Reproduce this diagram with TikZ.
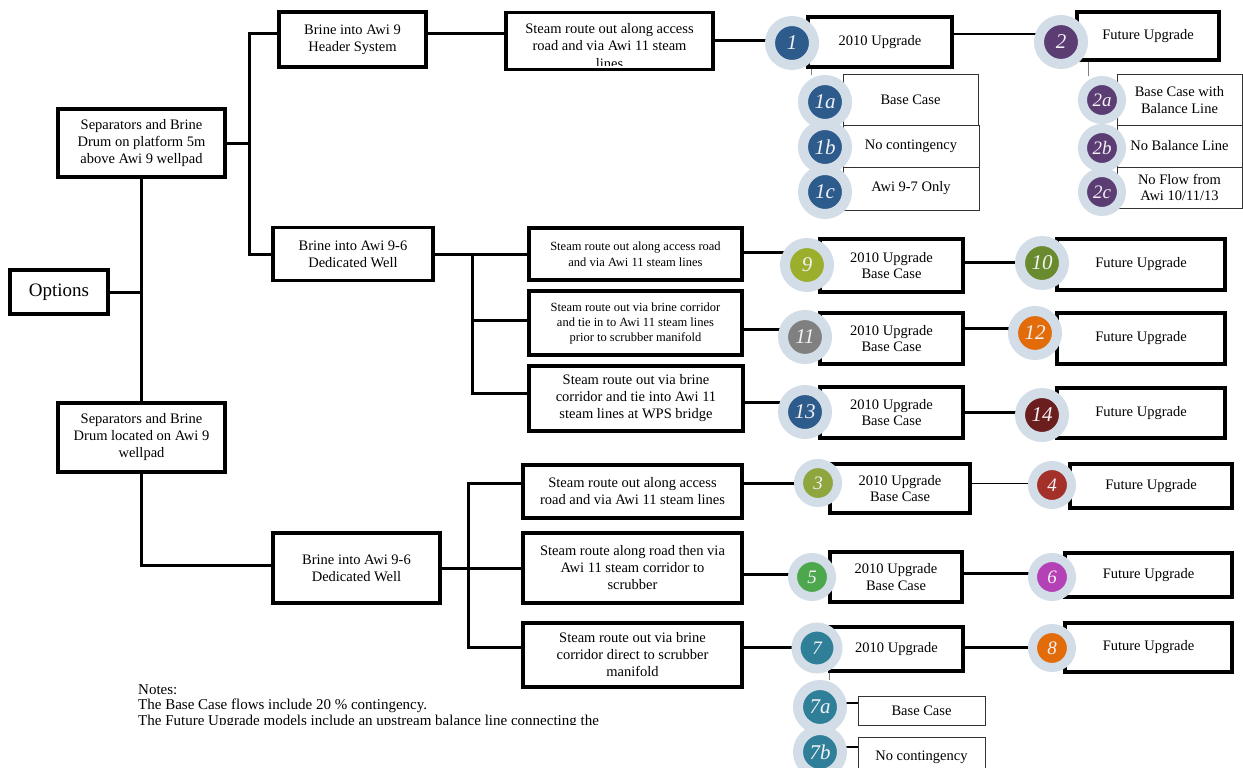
\documentclass[tikz,border=0pt]{standalone}
\usepackage{fontspec}
\setmainfont{Liberation Serif}
\usetikzlibrary{calc}
\pgfdeclarelayer{back}
\pgfdeclarelayer{lines}
\pgfsetlayers{back,lines,main}
\definecolor{halo}{HTML}{D3DDE8}
\definecolor{cblue}{HTML}{2D5B8C}
\definecolor{cpurple}{HTML}{5B3C73}
\definecolor{cnine}{HTML}{9BAF2C}
\definecolor{cten}{HTML}{6A8A2E}
\definecolor{cgray}{HTML}{808080}
\definecolor{corange}{HTML}{E36C0A}
\definecolor{cmaroon}{HTML}{6A1E1E}
\definecolor{cthree}{HTML}{8FA63E}
\definecolor{cfour}{HTML}{A33129}
\definecolor{cfive}{HTML}{4DA84D}
\definecolor{csix}{HTML}{B441B6}
\definecolor{cteal}{HTML}{2F7F99}
\definecolor{badgetext}{HTML}{F2F2F6}
\newcommand{\fsz}[2]{\fontsize{#1}{#2}\selectfont}
\begin{document}
\begin{tikzpicture}[x=1pt,y=-1pt,
  stepbox/.style={draw=black,line width=3.5pt,fill=white,align=center,inner sep=0pt,font=\fsz{14.5}{17}},
  resbox/.style={draw=black,line width=3.5pt,fill=white,align=center,inner sep=0pt,font=\fsz{14.5}{16.5}},
  subbox/.style={draw=black!80,line width=1pt,fill=white,align=center,inner sep=0pt,font=\fsz{14.5}{16.5}},
  conn/.style={line width=3pt,draw=black},
  midconn/.style={line width=2pt,draw=black},
  thinconn/.style={line width=1.3pt,draw=black},
  subconn/.style={line width=1pt,draw=black!50},
  badge/.style={circle,fill=#1,draw=halo,line width=10pt,minimum size=44pt,inner sep=0pt,text=badgetext,font=\fsz{21}{21}\itshape},
  sbadge/.style={circle,fill=#1,draw=halo,line width=9pt,minimum size=39pt,inner sep=0pt,text=badgetext,font=\fsz{19}{19}\itshape},
]
\useasboundingbox (0,0) rectangle (1243,768);
\begin{pgfonlayer}{back}
\fill[white] (0,0) rectangle (1243,768);
\end{pgfonlayer}

% ---------- step boxes ----------
\node[stepbox,font=\fsz{19}{22},line width=4pt,minimum width=98pt,minimum height=44pt] (opt) at (59,292) {Options};
\node[stepbox,minimum width=167pt,minimum height=68pt] (sep1) at (141.5,143) {Separators and Brine\\Drum on platform 5m\\above Awi 9 wellpad};
\node[stepbox,minimum width=167pt,minimum height=69pt] (sep2) at (141.5,437.5) {Separators and Brine\\Drum located on Awi 9\\wellpad};
\node[stepbox,minimum width=147pt,minimum height=55pt] (hdr) at (352.5,39.5) {Brine into Awi 9\\Header System};
\node[stepbox,minimum width=160pt,minimum height=53pt] (bw1) at (353,254) {Brine into Awi 9-6\\Dedicated Well};
\node[stepbox,minimum width=167pt,minimum height=70pt] (bw2) at (356.5,568) {Brine into Awi 9-6\\Dedicated Well};
\node[stepbox,minimum width=207pt,minimum height=57pt] (st1) at (609.5,41) {};
\begin{scope}
\clip ([shift={(3.5,3.5)}]st1.north west) rectangle ([xshift=-3.5pt]st1.east |- 0,66);
\node[align=center,inner sep=0pt,font=\fsz{14.5}{17.5}] (st1t) at ([yshift=-5pt]st1.center) {Steam route out along access\\road and via Awi 11 steam\\lines};
\end{scope}
\node[stepbox,font=\fsz{12.5}{16},minimum width=213pt,minimum height=52pt] (s9) at (635.5,254) {Steam route out along access road\\and via Awi 11 steam lines};
\node[stepbox,font=\fsz{12.5}{15},minimum width=213pt,minimum height=64pt] (s11) at (635.5,323) {Steam route out via brine corridor\\and tie in to Awi 11 steam lines\\prior to scrubber manifold};
\node[stepbox,minimum width=214pt,minimum height=65pt] (s13) at (636,398.5) {Steam route out via brine\\corridor and tie into Awi 11\\steam lines at WPS bridge};
\node[stepbox,minimum width=219pt,minimum height=53pt] (s3) at (632.5,491.5) {Steam route out along access\\road and via Awi 11 steam lines};
\node[stepbox,minimum width=219pt,minimum height=70pt] (s5) at (632.5,568) {Steam route along road then via\\Awi 11 steam corridor to\\scrubber};
\node[stepbox,minimum width=219pt,minimum height=64pt] (s7) at (632.5,655) {Steam route out via brine\\corridor direct to scrubber\\manifold};

% ---------- result boxes ----------
\node[resbox,minimum width=144pt,minimum height=50pt] (r1) at (880,42) {2010 Upgrade};
\node[resbox,minimum width=142pt,minimum height=48pt] (r2) at (1148,36) {Future Upgrade};
\node[resbox,minimum width=143pt,minimum height=53pt] (r9) at (891.5,265.5) {2010 Upgrade\\Base Case};
\node[resbox,minimum width=168pt,minimum height=51pt] (r10) at (1141,264.5) {Future Upgrade};
\node[resbox,minimum width=143pt,minimum height=51pt] (r11) at (891.5,338.5) {2010 Upgrade\\Base Case};
\node[resbox,minimum width=168pt,minimum height=51pt] (r12) at (1141,338.5) {Future Upgrade};
\node[resbox,minimum width=143pt,minimum height=51pt] (r13) at (891.5,412.5) {2010 Upgrade\\Base Case};
\node[resbox,minimum width=168pt,minimum height=50pt] (r14) at (1141,413) {Future Upgrade};
\node[resbox,minimum width=140pt,minimum height=49pt] (r3) at (900,488.5) {2010 Upgrade\\Base Case};
\node[resbox,minimum width=162pt,minimum height=44pt] (r4) at (1151,486) {Future Upgrade};
\node[resbox,minimum width=132pt,minimum height=50pt] (r5) at (896,577) {2010 Upgrade\\Base Case};
\node[resbox,minimum width=167pt,minimum height=44pt] (r6) at (1148.5,575) {Future Upgrade};
\node[resbox,minimum width=133pt,minimum height=44pt] (r7) at (896.5,649) {2010 Upgrade};
\node[resbox,minimum width=167pt,minimum height=49pt] (r8) at (1148.5,647.5) {Future Upgrade};

% ---------- sub boxes ----------
\node[subbox,minimum width=135pt,minimum height=50pt] (r1a) at (910.5,100) {Base Case};
\node[subbox,minimum width=136pt,minimum height=42pt] (r1b) at (911,146) {No contingency};
\node[subbox,minimum width=136pt,minimum height=43pt] (r1c) at (911,188.5) {Awi 9-7 Only};
\node[subbox,minimum width=125pt,minimum height=50pt] (r2a) at (1179.5,100) {Base Case with\\Balance Line};
\node[subbox,minimum width=125pt,minimum height=42pt] (r2b) at (1179.5,146) {No Balance Line};
\node[subbox,minimum width=125pt,minimum height=41pt] (r2c) at (1179.5,187.5) {No Flow from\\Awi 10/11/13};
\node[subbox,minimum width=127pt,minimum height=29pt] (r7a) at (921.5,710.5) {Base Case};
\node[subbox,minimum width=127pt,minimum height=40pt] (r7b) at (921.5,757) {No contingency};

% ---------- badges ----------
\node[badge=cblue] (c1) at (792,43) {1};
\node[badge=cblue] (c1a) at (825,102) {1a};
\node[badge=cblue] (c1b) at (825,147) {1b};
\node[badge=cblue] (c1c) at (825,192) {1c};
\node[badge=cpurple] (c2) at (1061,42) {2};
\node[sbadge=cpurple] (c2a) at (1102,100) {2a};
\node[sbadge=cpurple] (c2b) at (1102,148) {2b};
\node[sbadge=cpurple] (c2c) at (1102,192) {2c};
\node[badge=cnine] (c9) at (807,265) {9};
\node[badge=cten] (c10) at (1042,263) {10};
\node[badge=cgray] (c11) at (805,337) {11};
\node[badge=corange] (c12) at (1035,333) {12};
\node[badge=cblue] (c13) at (805,412) {13};
\node[badge=cmaroon] (c14) at (1042,415) {14};
\node[sbadge=cthree] (c3) at (818,483) {3};
\node[sbadge=cfour] (c4) at (1052,485) {4};
\node[sbadge=cfive] (c5) at (812,577) {5};
\node[sbadge=csix] (c6) at (1052,577) {6};
\node[sbadge=cteal,minimum size=42pt] (c7) at (817,648) {7};
\node[sbadge=corange] (c8) at (1052,648) {8};
\node[badge=cteal] (c7a) at (820,707) {7a};
\node[badge=cteal] (c7b) at (820,752) {7b};

% ---------- notes ----------
\begin{scope}
\clip (100,672) rectangle (720,724);
\node[anchor=north west,align=left,inner sep=0pt,font=\fsz{15}{15.5}] (notes) at (138,684) {Notes:\\The Base Case flows include 20 \% contingency.\\The Future Upgrade models include an upstream balance line connecting the};
\end{scope}

% ---------- connectors ----------
\begin{pgfonlayer}{lines}
\coordinate (j1) at (249,145);
\coordinate (j2) at (472,254);
\coordinate (j3) at (468,568);
\draw[conn] (opt.east) -- (opt.east -| sep1.south);
\draw[conn] (sep1.south) -- (sep2.north);
\draw[conn] (sep1.east) -- (sep1.east -| j1);
\draw[conn] ([yshift=6pt]hdr.west) -| (j1) |- (bw1.west);
\draw[conn] (sep2.south) |- ([yshift=3pt]bw2.west);
\draw[conn] ([yshift=6pt]hdr.east) -- ([yshift=6pt]hdr.east -| st1.west);
\draw[conn] (st1.east) -- (st1.east -| c1);
\draw[midconn] ([yshift=8pt]r1.east) -- ([yshift=8pt]r1.east -| c2);
\draw[subconn] ([xshift=5pt]r1.south west) -- ([xshift=5pt]r1.south west |- c1a.north);
\draw[subconn] ([xshift=13pt]r2.south west) -- ([xshift=13pt]r2.south west |- c2a.north);
% middle group
\draw[conn] (bw1.east) -- (s9.west);
\draw[conn] (j2) |- ([yshift=3pt]s11.west);
\draw[conn] (j2) |- ([yshift=5pt]s13.west);
\draw[conn] ([yshift=2pt]s9.east) -- ([yshift=2pt]s9.east -| c9);
\draw[conn] ([yshift=-6pt]s11.east) -- ([yshift=-6pt]s11.east -| c11);
\draw[conn] ([yshift=-4pt]s13.east) -- ([yshift=-4pt]s13.east -| c13);
\draw[conn] ([yshift=3pt]r9.east) -- ([yshift=3pt]r9.east -| c10);
\draw[conn] ([yshift=10pt]r11.east) -- ([yshift=10pt]r11.east -| c12);
\draw[conn] (r13.east) -- (r13.east -| c14);
% bottom group
\draw[conn] (bw2.east) -- (s5.west);
\draw[conn] (j3) |- ([yshift=8pt]s3.west);
\draw[conn] (j3) |- ([yshift=8pt]s7.west);
\draw[conn] ([yshift=8pt]s3.east) -- ([yshift=8pt]s3.east -| c3);
\draw[conn] ([yshift=-6pt]s5.east) -- ([yshift=-6pt]s5.east -| c5);
\draw[conn] ([yshift=8pt]s7.east) -- ([yshift=8pt]s7.east -| c7);
\draw[thinconn] ([yshift=5pt]r3.east) -- ([yshift=5pt]r3.east -| c4);
\draw[conn] ([yshift=4pt]r5.east) -- ([yshift=4pt]r5.east -| c6);
\draw[conn] ([yshift=2pt]r7.east) -- ([yshift=2pt]r7.east -| c8);
\draw[subconn] ([xshift=1pt]r7.south west) -- ([xshift=1pt]r7.south west |- c7a.north);
\draw[thinconn] ([yshift=4pt]c7a.center) -- ([yshift=4pt]c7a.center -| r7a.west);
\draw[thinconn] ([yshift=5pt]c7b.center) -- ([yshift=5pt]c7b.center -| r7b.west);
\end{pgfonlayer}
\end{tikzpicture}
\end{document}
